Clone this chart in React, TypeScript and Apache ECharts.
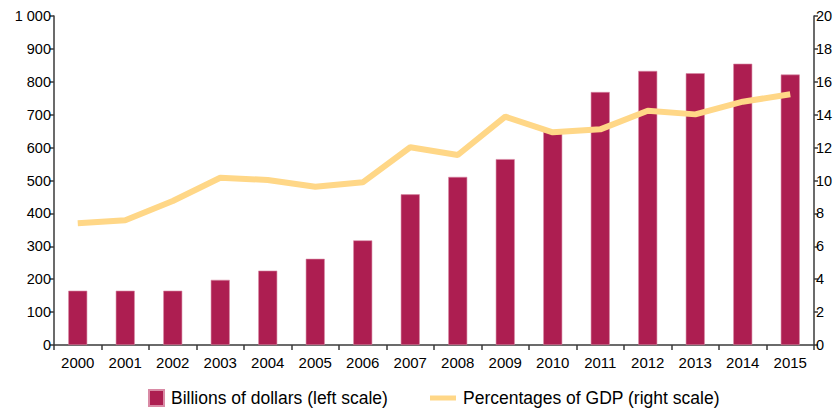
import React, { useEffect, useRef } from "react";
import * as echarts from "echarts";

const years = ["2000","2001","2002","2003","2004","2005","2006","2007","2008","2009","2010","2011","2012","2013","2014","2015"];
const billions = [165, 165, 165, 198, 226, 262, 318, 458, 511, 565, 652, 769, 833, 826, 855, 822];
const gdpPct = [7.4, 7.58, 8.75, 10.17, 10.03, 9.62, 9.89, 12.02, 11.55, 13.88, 12.93, 13.11, 14.24, 14.02, 14.79, 15.24];
const barName = "Billions of dollars (left scale)";
const lineName = "Percentages of GDP (right scale)";

const BAR = "#AD1E51";
const LINE = "#FFD787";
const AXIS = "#3a3a3a";
const FONT = "Liberation Sans, Arial, sans-serif";

export default function App() {
  const ref = useRef<HTMLDivElement>(null);
  useEffect(() => {
    if (!ref.current) return;
    const chart = echarts.init(ref.current, undefined, { renderer: "svg" });
    chart.setOption({
      animation: false,
      textStyle: { fontFamily: FONT },
      grid: { left: 54, right: 23, top: 16, bottom: 63, containLabel: false },
      legend: [
        {
          data: [{ name: barName, icon: "rect" }],
          left: 148,
          top: 389,
          padding: 0,
          itemWidth: 15,
          itemHeight: 16,
          textStyle: { fontSize: 17.5, color: "#000", fontFamily: FONT, padding: [0, 0, 0, 2], lineHeight: 16 },
        },
        {
          data: [{ name: lineName, icon: "rect" }],
          left: 430,
          top: 389,
          padding: 0,
          itemWidth: 26,
          itemHeight: 5,
          textStyle: { fontSize: 17.5, color: "#000", fontFamily: FONT, padding: [0, 0, 0, 2], lineHeight: 16 },
        },
      ],
      xAxis: {
        type: "category",
        data: years,
        boundaryGap: true,
        axisLine: { lineStyle: { color: AXIS, width: 1.5 } },
        axisTick: { show: true, length: 5, lineStyle: { color: AXIS, width: 1.5 } },
        axisLabel: { color: "#000", fontSize: 15, margin: 10, fontFamily: FONT },
        splitLine: { show: false },
      },
      yAxis: [
        {
          type: "value",
          min: 0,
          max: 1000,
          interval: 100,
          position: "left",
          axisLine: { show: true, lineStyle: { color: AXIS, width: 1.5 } },
          axisTick: { show: true, length: 4, lineStyle: { color: AXIS, width: 1.5 } },
          axisLabel: {
            color: "#000",
            fontSize: 14.5,
            margin: 3,
            fontFamily: FONT,
            formatter: (v: number) => (v >= 1000 ? "1 000" : String(v)),
          },
          splitLine: { show: false },
        },
        {
          type: "value",
          min: 0,
          max: 20,
          interval: 2,
          position: "right",
          axisLine: { show: true, lineStyle: { color: AXIS, width: 1.5 } },
          axisTick: { show: true, length: 4, lineStyle: { color: AXIS, width: 1.5 } },
          axisLabel: { color: "#000", fontSize: 14.5, margin: 2, fontFamily: FONT },
          splitLine: { show: false },
        },
      ],
      series: [
        {
          name: barName,
          type: "bar",
          yAxisIndex: 0,
          data: billions,
          barWidth: 19,
          itemStyle: { color: BAR, borderColor: "#D98AA5", borderWidth: 0.6 },
        },
        {
          name: lineName,
          type: "line",
          yAxisIndex: 1,
          data: gdpPct,
          symbol: "none",
          lineStyle: { color: LINE, width: 6 },
          itemStyle: { color: LINE },
          z: 3,
        },
      ],
    });
    return () => chart.dispose();
  }, []);
  return <div ref={ref} style={{ width: 837, height: 408, position: "absolute", left: 0, top: 0 }} />;
}
